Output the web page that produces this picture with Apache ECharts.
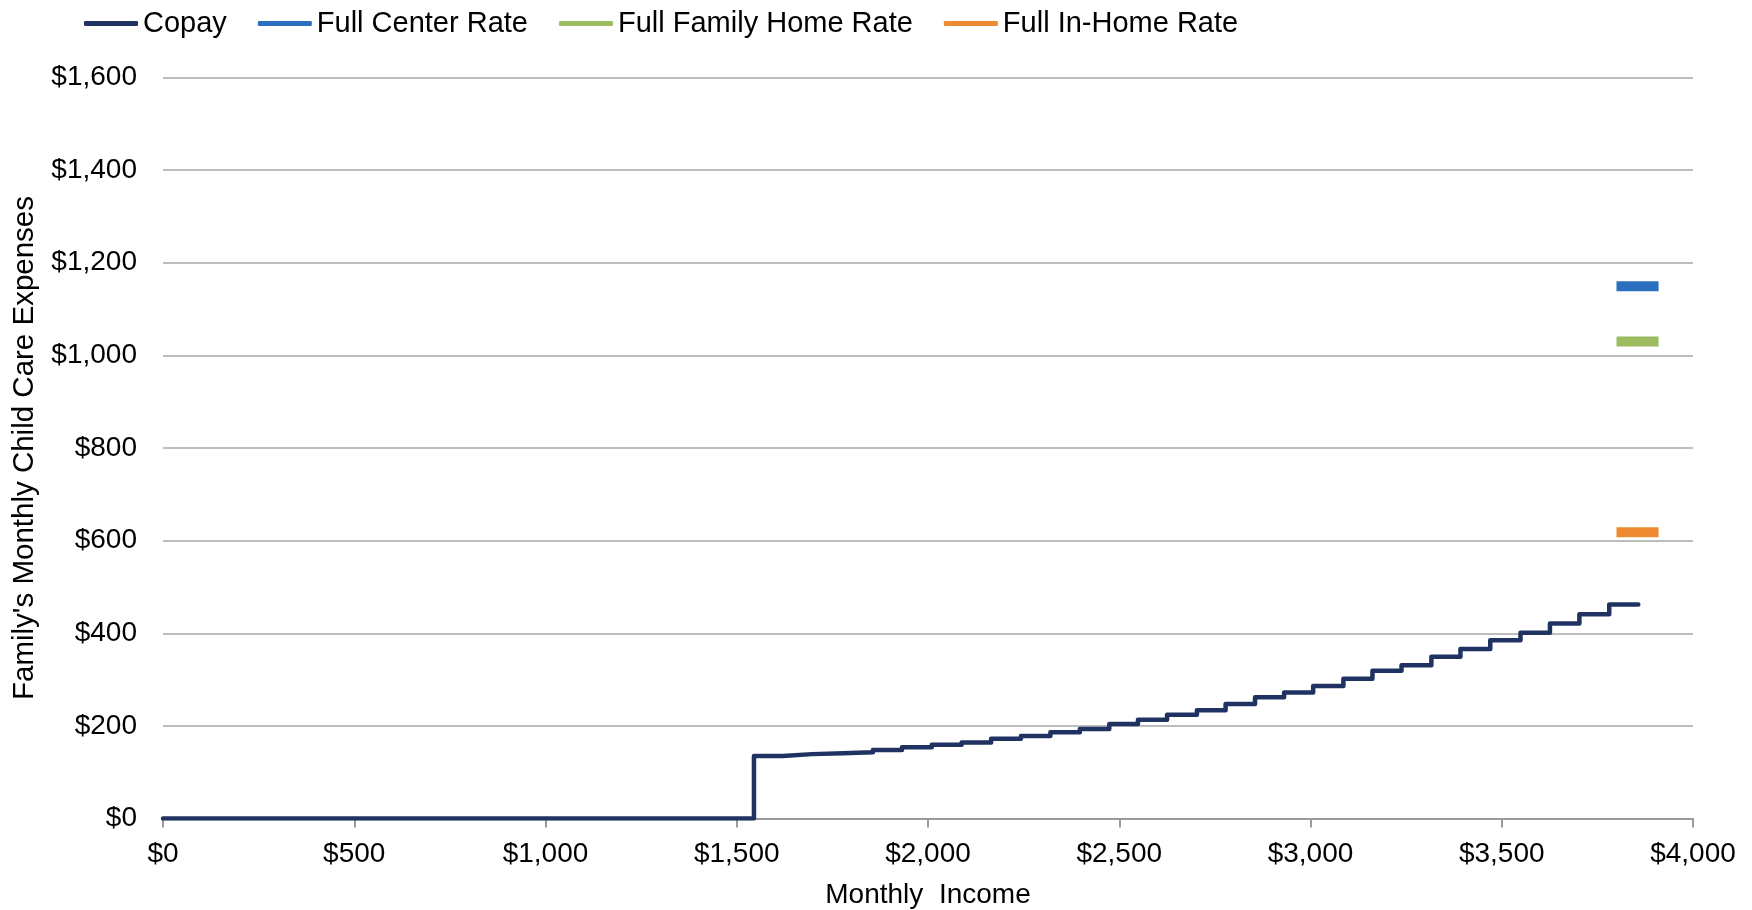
<!DOCTYPE html>
<html>
<head>
<meta charset="utf-8">
<script src="https://cdn.jsdelivr.net/npm/echarts@6/dist/echarts.min.js"></script>
<style>
  html, body { margin: 0; padding: 0; background: #fff; }
  #chart { width: 1752px; height: 910px; }
</style>
</head>
<body>
<div id="chart"></div>
<script>
// copay schedule: income where each step starts, and the copay from there on
const copayIncome = [0, 1545, 1620, 1697, 1778, 1856, 1932, 2010, 2088, 2165, 2243, 2320, 2397, 2474, 2549, 2625,
  2703, 2778, 2855, 2931, 3007, 3086, 3162, 3238, 3316, 3392, 3470, 3549, 3626, 3703, 3781, 3857]
const copayValue = [0, 135, 139, 141, 143, 148, 154, 159, 164, 172, 178, 186, 193, 204, 213, 224,
  234, 247, 262, 272, 286, 302, 319, 331, 349, 366, 385, 401, 421, 441, 462, 462]

// full rates, drawn as short bars at the right edge
const rateIncome = [3800, 3910]
const centerRate = 1149
const familyHomeRate = 1030
const inHomeRate = 618

const seriesNames = ['Copay', 'Full Center Rate', 'Full Family Home Rate', 'Full In-Home Rate']
const colors = ['#1f3262', '#2b70be', '#9dbb61', '#ee8b32']

const font = 'Liberation Sans, Arial, sans-serif'
const money = v => '$' + v.toLocaleString('en-US')

function rateSeries(name, value, color) {
  return {
    name: name,
    type: 'line',
    showSymbol: false,
    symbol: 'none',
    lineStyle: { color: color, width: 10, cap: 'butt' },
    itemStyle: { color: color },
    data: rateIncome.map(x => [x, value])
  }
}

const myChart = echarts.init(document.getElementById('chart'))
const options = {
  animation: false,
  backgroundColor: '#fff',
  color: colors,
  legend: {
    left: 79,
    top: 4,
    itemWidth: 54,
    itemHeight: 5,
    itemGap: 31,
    icon: 'roundRect',
    textStyle: { fontFamily: font, fontSize: 29, color: '#000' },
    data: seriesNames
  },
  grid: {
    left: 163,
    right: 59,
    top: 77.5,
    bottom: 91.5,
    outerBoundsMode: 'none'
  },
  xAxis: {
    type: 'value',
    min: 0,
    max: 4000,
    interval: 500,
    name: 'Monthly  Income',
    nameLocation: 'middle',
    nameGap: 63,
    nameTextStyle: { fontFamily: font, fontSize: 28, color: '#000' },
    axisLine: { show: true, lineStyle: { color: '#9a9a9a', width: 2 } },
    axisTick: { show: true, length: 9, lineStyle: { color: '#9a9a9a', width: 2 } },
    splitLine: { show: false },
    axisLabel: {
      margin: 22,
      fontFamily: font,
      fontSize: 28,
      color: '#000',
      formatter: money
    }
  },
  yAxis: {
    type: 'value',
    min: 0,
    max: 1600,
    interval: 200,
    name: "Family's Monthly Child Care Expenses",
    nameLocation: 'middle',
    nameGap: 123,
    nameTextStyle: { fontFamily: font, fontSize: 29.5, color: '#000' },
    axisLine: { show: false },
    axisTick: { show: false },
    splitLine: { show: true, lineStyle: { color: '#bdbdbd', width: 2 } },
    axisLabel: {
      margin: 26,
      fontFamily: font,
      fontSize: 28,
      color: '#000',
      formatter: money
    }
  },
  series: [
    {
      name: 'Copay',
      type: 'line',
      step: 'end',
      showSymbol: false,
      symbol: 'none',
      z: 5,
      lineStyle: { color: colors[0], width: 4.5, cap: 'round', join: 'round' },
      itemStyle: { color: colors[0] },
      data: copayIncome.map((x, i) => [x, copayValue[i]])
    },
    rateSeries('Full Center Rate', centerRate, colors[1]),
    rateSeries('Full Family Home Rate', familyHomeRate, colors[2]),
    rateSeries('Full In-Home Rate', inHomeRate, colors[3])
  ]
}
myChart.setOption(options)
</script>
</body>
</html>
